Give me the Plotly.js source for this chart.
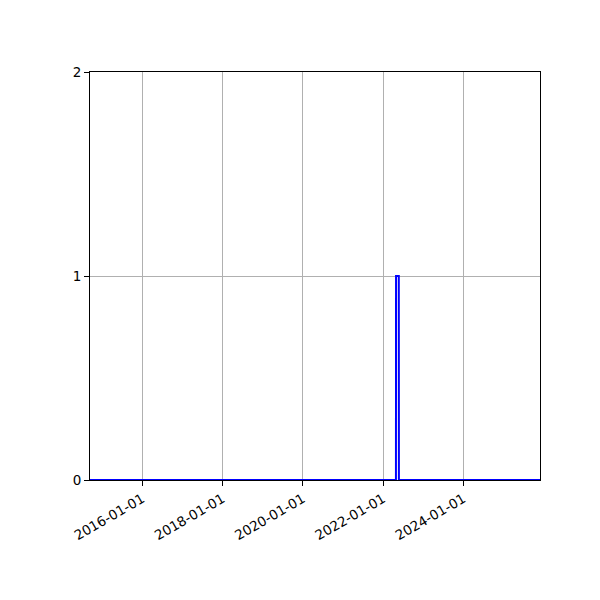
<!DOCTYPE html>
<html>
<head>
<meta charset="utf-8">
<script src="https://cdn.plot.ly/plotly-3.0.1.min.js"></script>
<style>
  html, body { margin: 0; padding: 0; background: #fff; }
  #chart { width: 600px; height: 600px; }
</style>
</head>
<body>
<div id="chart"></div>
<script>
var dates = ['2014-09-12', '2022-04-27', '2022-04-28', '2022-05-23', '2022-05-24', '2025-11-28'];
var counts = [0, 0, 1, 1, 0, 0];

var xTickVals = ['2016-01-01', '2018-01-01', '2020-01-01', '2022-01-01', '2024-01-01'];
var xTickText = ['2016-01-01', '2018-01-01', '2020-01-01', '2022-01-01', '2024-01-01'];
var yTickVals = [0, 1, 2];

var trace = {
  x: dates,
  y: counts,
  type: 'scatter',
  mode: 'lines',
  line: { color: '#0000ff', width: 2 },
  cliponaxis: false,
  hoverinfo: 'x+y'
};

var layout = {
  width: 600,
  height: 600,
  margin: { l: 90, r: 60, t: 72, b: 120, pad: 0 },
  paper_bgcolor: '#ffffff',
  plot_bgcolor: '#ffffff',
  showlegend: false,
  font: { family: 'DejaVu Sans, sans-serif', size: 13.5, color: '#000000' },
  xaxis: {
    type: 'date',
    range: [dates[0], dates[dates.length - 1]],
    tickvals: xTickVals,
    ticktext: xTickText,
    tickangle: -30,
    ticks: 'outside',
    ticklen: 5,
    tickwidth: 1,
    tickcolor: '#000000',
    showgrid: true,
    gridcolor: '#b0b0b0',
    gridwidth: 1,
    showline: true,
    linecolor: '#000000',
    linewidth: 1,
    mirror: true,
    zeroline: false,
    layer: 'below traces'
  },
  yaxis: {
    range: [0, 2],
    tickvals: yTickVals,
    ticks: 'outside',
    ticklen: 5,
    tickwidth: 1,
    tickcolor: '#000000',
    showgrid: true,
    gridcolor: '#b0b0b0',
    gridwidth: 1,
    showline: true,
    linecolor: '#000000',
    linewidth: 1,
    mirror: true,
    zeroline: false,
    layer: 'below traces'
  }
};

var config = { responsive: false, displayModeBar: false, staticPlot: true };

Plotly.newPlot('chart', [trace], layout, config);
</script>
</body>
</html>
